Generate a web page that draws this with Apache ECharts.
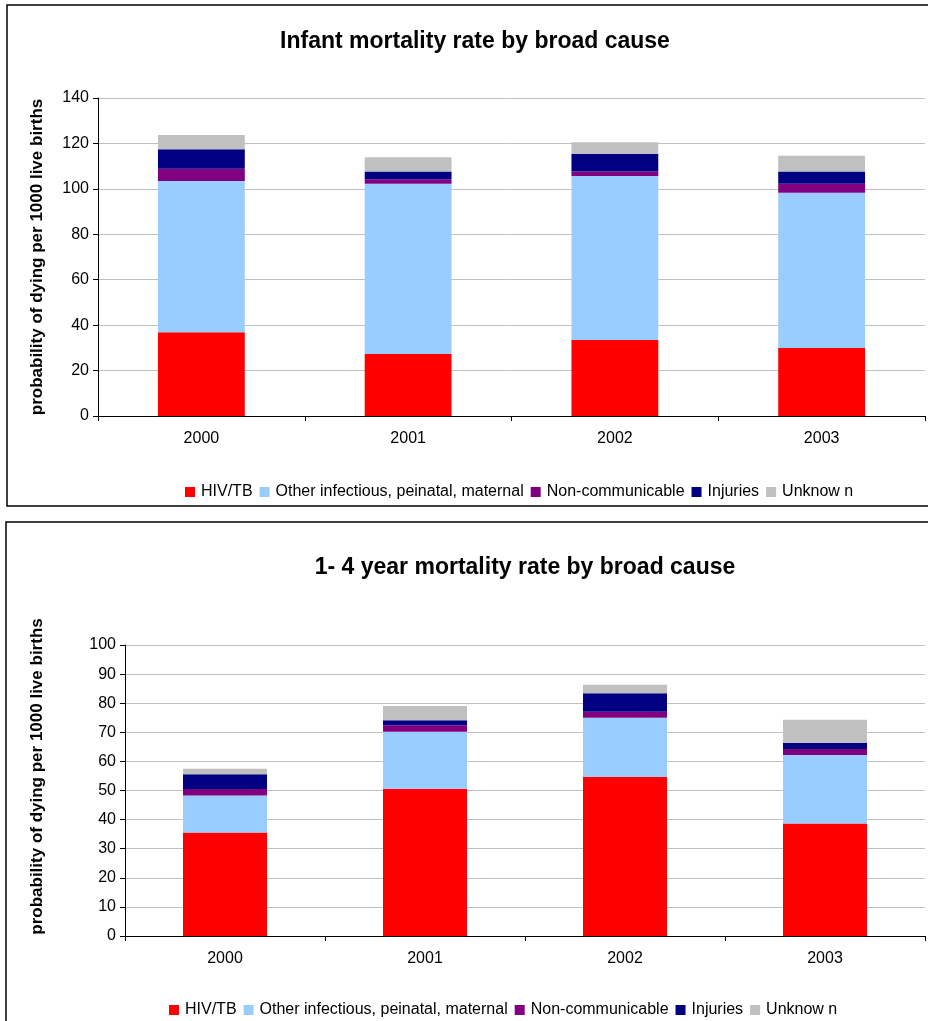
<!DOCTYPE html>
<html>
<head>
<meta charset="utf-8">
<script src="https://cdn.jsdelivr.net/npm/echarts@6/dist/echarts.min.js"></script>
<style>html,body{margin:0;padding:0;background:#fff;}#c{width:928px;height:1021px;}</style>
</head>
<body>
<div id="c"></div>
<script>
const categories = ['2000', '2001', '2002', '2003'];
const seriesNames = ['HIV/TB', 'Other infectious, peinatal, maternal', 'Non-communicable', 'Injuries', 'Unknow n'];
const colors = ['#FF0000', '#99CCFF', '#800080', '#000080', '#C0C0C0'];

// Infant mortality (top chart)
const infantHIV = [36.9, 27.3, 33.5, 29.9];
const infantOther = [66.6, 75.0, 72.2, 68.4];
const infantNonComm = [5.3, 1.9, 1.9, 4.0];
const infantInjuries = [8.6, 3.4, 7.9, 5.3];
const infantUnknown = [6.3, 6.3, 5.0, 7.0];

// 1-4 year mortality (bottom chart)
const childHIV = [35.6, 50.6, 54.6, 38.7];
const childOther = [12.7, 19.6, 20.4, 23.5];
const childNonComm = [2.2, 2.2, 2.1, 2.1];
const childInjuries = [5.1, 1.7, 6.3, 2.1];
const childUnknown = [1.9, 4.9, 2.9, 7.9];

const infantTicks = [0, 20, 40, 60, 80, 100, 120, 140];
const childTicks = [0, 10, 20, 30, 40, 50, 60, 70, 80, 90, 100];

const FONT = '"Liberation Sans", Arial, sans-serif';
const infantData = [infantHIV, infantOther, infantNonComm, infantInjuries, infantUnknown];
const childData = [childHIV, childOther, childNonComm, childInjuries, childUnknown];

function makeSeries(dataSets, idx, stack) {
  return dataSets.map((d, i) => ({
    name: seriesNames[i],
    type: 'bar',
    stack: stack,
    xAxisIndex: idx,
    yAxisIndex: idx,
    data: d,
    barWidth: '42%',
    itemStyle: { color: colors[i] },
    emphasis: { disabled: true }
  }));
}

function xAxis(gridIndex) {
  return {
    type: 'category', gridIndex: gridIndex, data: categories,
    axisLine: { lineStyle: { color: '#000', width: 1 } },
    axisTick: { show: true, length: 5, lineStyle: { color: '#000' } },
    axisLabel: { color: '#000', fontFamily: FONT, fontSize: 16, margin: 15 }
  };
}
function yAxis(gridIndex, ticks, gap, pad) {
  return {
    type: 'value', gridIndex: gridIndex,
    min: ticks[0], max: ticks[ticks.length - 1], interval: ticks[1] - ticks[0],
    name: 'probability of dying per 1000 live births',
    nameLocation: 'middle', nameRotate: 90, nameGap: gap,
    nameTextStyle: { color: '#000', fontFamily: FONT, fontSize: 17, fontWeight: 'bold', padding: pad },
    axisLine: { show: true, lineStyle: { color: '#000', width: 1 } },
    axisTick: { show: true, length: 5, lineStyle: { color: '#000' } },
    axisLabel: { color: '#000', fontFamily: FONT, fontSize: 16, margin: 9 },
    splitLine: { show: true, lineStyle: { color: '#c0c0c0', width: 1 } }
  };
}
function legend(top, left) {
  return {
    data: seriesNames, top: top, left: left, itemWidth: 10, itemHeight: 10, itemGap: 7,
    icon: 'rect', selectedMode: false,
    textStyle: { color: '#000', fontFamily: FONT, fontSize: 16, padding: [0, 0, 0, 1] }
  };
}

const chart = echarts.init(document.getElementById('c'), null, { renderer: 'canvas' });
chart.setOption({
  animation: false,
  backgroundColor: '#fff',
  title: [
    { text: 'Infant mortality rate by broad cause', left: 470, top: 25, textAlign: 'center',
      textStyle: { color: '#000', fontFamily: FONT, fontSize: 23, fontWeight: 'bold' } },
    { text: '1- 4 year mortality rate by broad cause', left: 520, top: 551, textAlign: 'center',
      textStyle: { color: '#000', fontFamily: FONT, fontSize: 23, fontWeight: 'bold' } }
  ],
  legend: [legend(479, 180), legend(997, 164)],
  grid: [
    { left: 98, right: 3, top: 98, height: 318 },
    { left: 125, right: 3, top: 645, height: 291 }
  ],
  xAxis: [xAxis(0), xAxis(1)],
  yAxis: [yAxis(0, infantTicks, 52, [0, 0, 0, 0]), yAxis(1, childTicks, 79, [0, 0, 0, 28])],
  series: makeSeries(infantData, 0, 'infant').concat(makeSeries(childData, 1, 'child')),
  graphic: [
    { type: 'rect', shape: { x: 7, y: 5, width: 960, height: 501 }, style: { fill: 'none', stroke: '#000', lineWidth: 1.5 }, silent: true },
    { type: 'rect', shape: { x: 6, y: 522, width: 960, height: 560 }, style: { fill: 'none', stroke: '#000', lineWidth: 1.5 }, silent: true }
  ]
});
</script>
</body>
</html>
